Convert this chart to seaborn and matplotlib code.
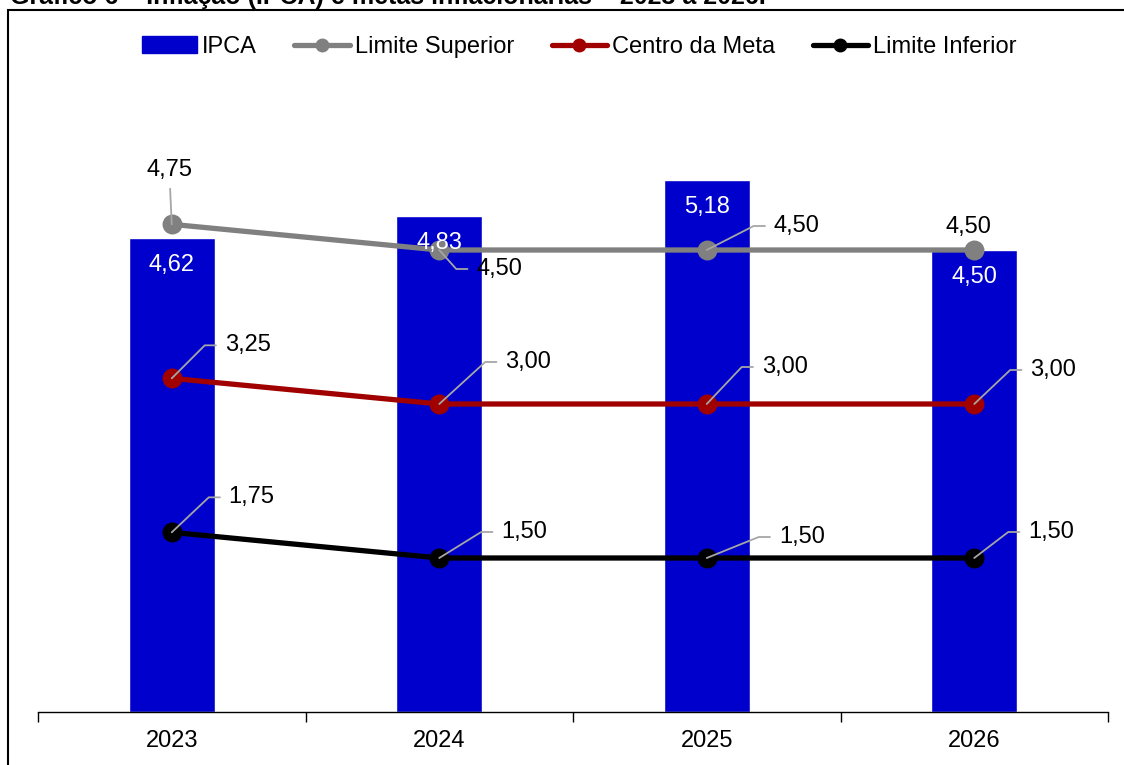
import numpy as np
import pandas as pd
import matplotlib.pyplot as plt
import seaborn as sns
from matplotlib.patches import Patch, Rectangle
from matplotlib.lines import Line2D

anos = ["2023", "2024", "2025", "2026"]
ipca = [4.62, 4.83, 5.18, 4.50]
lim_sup = [4.75, 4.50, 4.50, 4.50]
centro = [3.25, 3.00, 3.00, 3.00]
lim_inf = [1.75, 1.50, 1.50, 1.50]

titulo = "Gráfico 6 – Inflação (IPCA) e metas inflacionárias – 2023 a 2026."

df = pd.DataFrame({"Ano": anos, "IPCA": ipca, "Limite Superior": lim_sup,
                   "Centro da Meta": centro, "Limite Inferior": lim_inf})

sns.set_theme(style="white")
plt.rcParams['font.family'] = ['Liberation Sans', 'DejaVu Sans']
plt.rcParams['text.color'] = 'black'

W, H = 1124, 765
fig = plt.figure(figsize=(W / 100, H / 100), dpi=100)
ax = fig.add_axes([38 / W, 53 / H, 1070 / W, 616 / H])

azul = "#0000CC"
series = [("Limite Superior", "#808080"), ("Centro da Meta", "#A00000"), ("Limite Inferior", "#000000")]

sns.barplot(data=df, x="Ano", y="IPCA", color=azul, width=0.32, saturation=1, ax=ax)
for col, cor in series:
    sns.pointplot(data=df, x="Ano", y=col, color=cor, errorbar=None, markers="o",
                  linewidth=3.8, markersize=11.5, ax=ax)

ax.set_xlim(-0.5, 3.5)
ax.set_ylim(0, 6)
ax.set_xlabel("")
ax.set_ylabel("")
ax.set_yticks([])
ax.set_xticks(range(len(anos)))
ax.set_xticklabels(anos, fontsize=17, color="black")
ax.set_xticks(np.arange(-0.5, len(anos), 1), minor=True)
ax.tick_params(axis="x", which="major", length=0, pad=13)
ax.tick_params(axis="x", which="minor", length=7, width=1, direction="out", color="black", bottom=True)
for s in ["top", "left", "right"]:
    ax.spines[s].set_visible(False)
ax.spines["bottom"].set_color("black")
ax.spines["bottom"].set_linewidth(1)

# rótulos do IPCA dentro das barras
for i, v in enumerate(ipca):
    ax.annotate(f"{v:.2f}".replace(".", ","), xy=(i, v), xytext=(0, -27),
                textcoords="offset pixels", ha="center", va="center",
                color="white", fontsize=17, zorder=6)

# deslocamento dos rótulos das linhas (pixels)
desl = {
    "Limite Superior": [(-2, 54), (60, -19), (90, 24), (-6, 23)],
    "Centro da Meta": [(76, 33), (89, 42), (78, 37), (79, 34)],
    "Limite Inferior": [(80, 35), (85, 26), (95, 21), (77, 26)],
}

def rotulo(x, y, txt, dx, dy):
    if abs(dx) < 15:
        if dy > 40:
            props = dict(arrowstyle="-", color="#a6a6a6", lw=1.3, relpos=(0.5, 0),
                         shrinkA=3, shrinkB=0)
        else:
            props = None
    else:
        ang = np.degrees(np.arctan2(dy, dx - 43))
        props = dict(arrowstyle="-", color="#a6a6a6", lw=1.3, relpos=(0, 0.5),
                     shrinkA=4, shrinkB=0,
                     connectionstyle=f"angle,angleA=0,angleB={ang:.1f},rad=0")
    ax.annotate(txt, xy=(x, y), xytext=(dx, dy), textcoords="offset pixels",
                ha="center", va="center", fontsize=17, color="black",
                arrowprops=props, zorder=5)

for col, cor in series:
    for i, v in enumerate(df[col]):
        dx, dy = desl[col][i]
        rotulo(i, v, f"{v:.2f}".replace(".", ","), dx, dy)

# legenda
handles = [Patch(facecolor=azul, edgecolor=azul, label="IPCA")]
for col, cor in series:
    handles.append(Line2D([], [], color=cor, lw=3.8, marker="o", markersize=9, label=col))
fig.legend(handles=handles, loc="center", bbox_to_anchor=(579 / W, 1 - 47 / H),
           ncol=4, frameon=False, fontsize=17, handlelength=2.35, handletextpad=0.2,
           columnspacing=1.6, labelcolor="black")

# moldura e título cortado
fig.add_artist(Rectangle((8 / W, -0.2), 1.2, 1 - 10 / H + 0.2, transform=fig.transFigure,
                         fill=False, edgecolor="black", lw=1.5))
fig.text(10 / W, 1 - 4 / H, titulo, ha="left", va="baseline", fontsize=18,
         fontweight="bold", color="black")

fig.savefig("out.png", dpi=100)
